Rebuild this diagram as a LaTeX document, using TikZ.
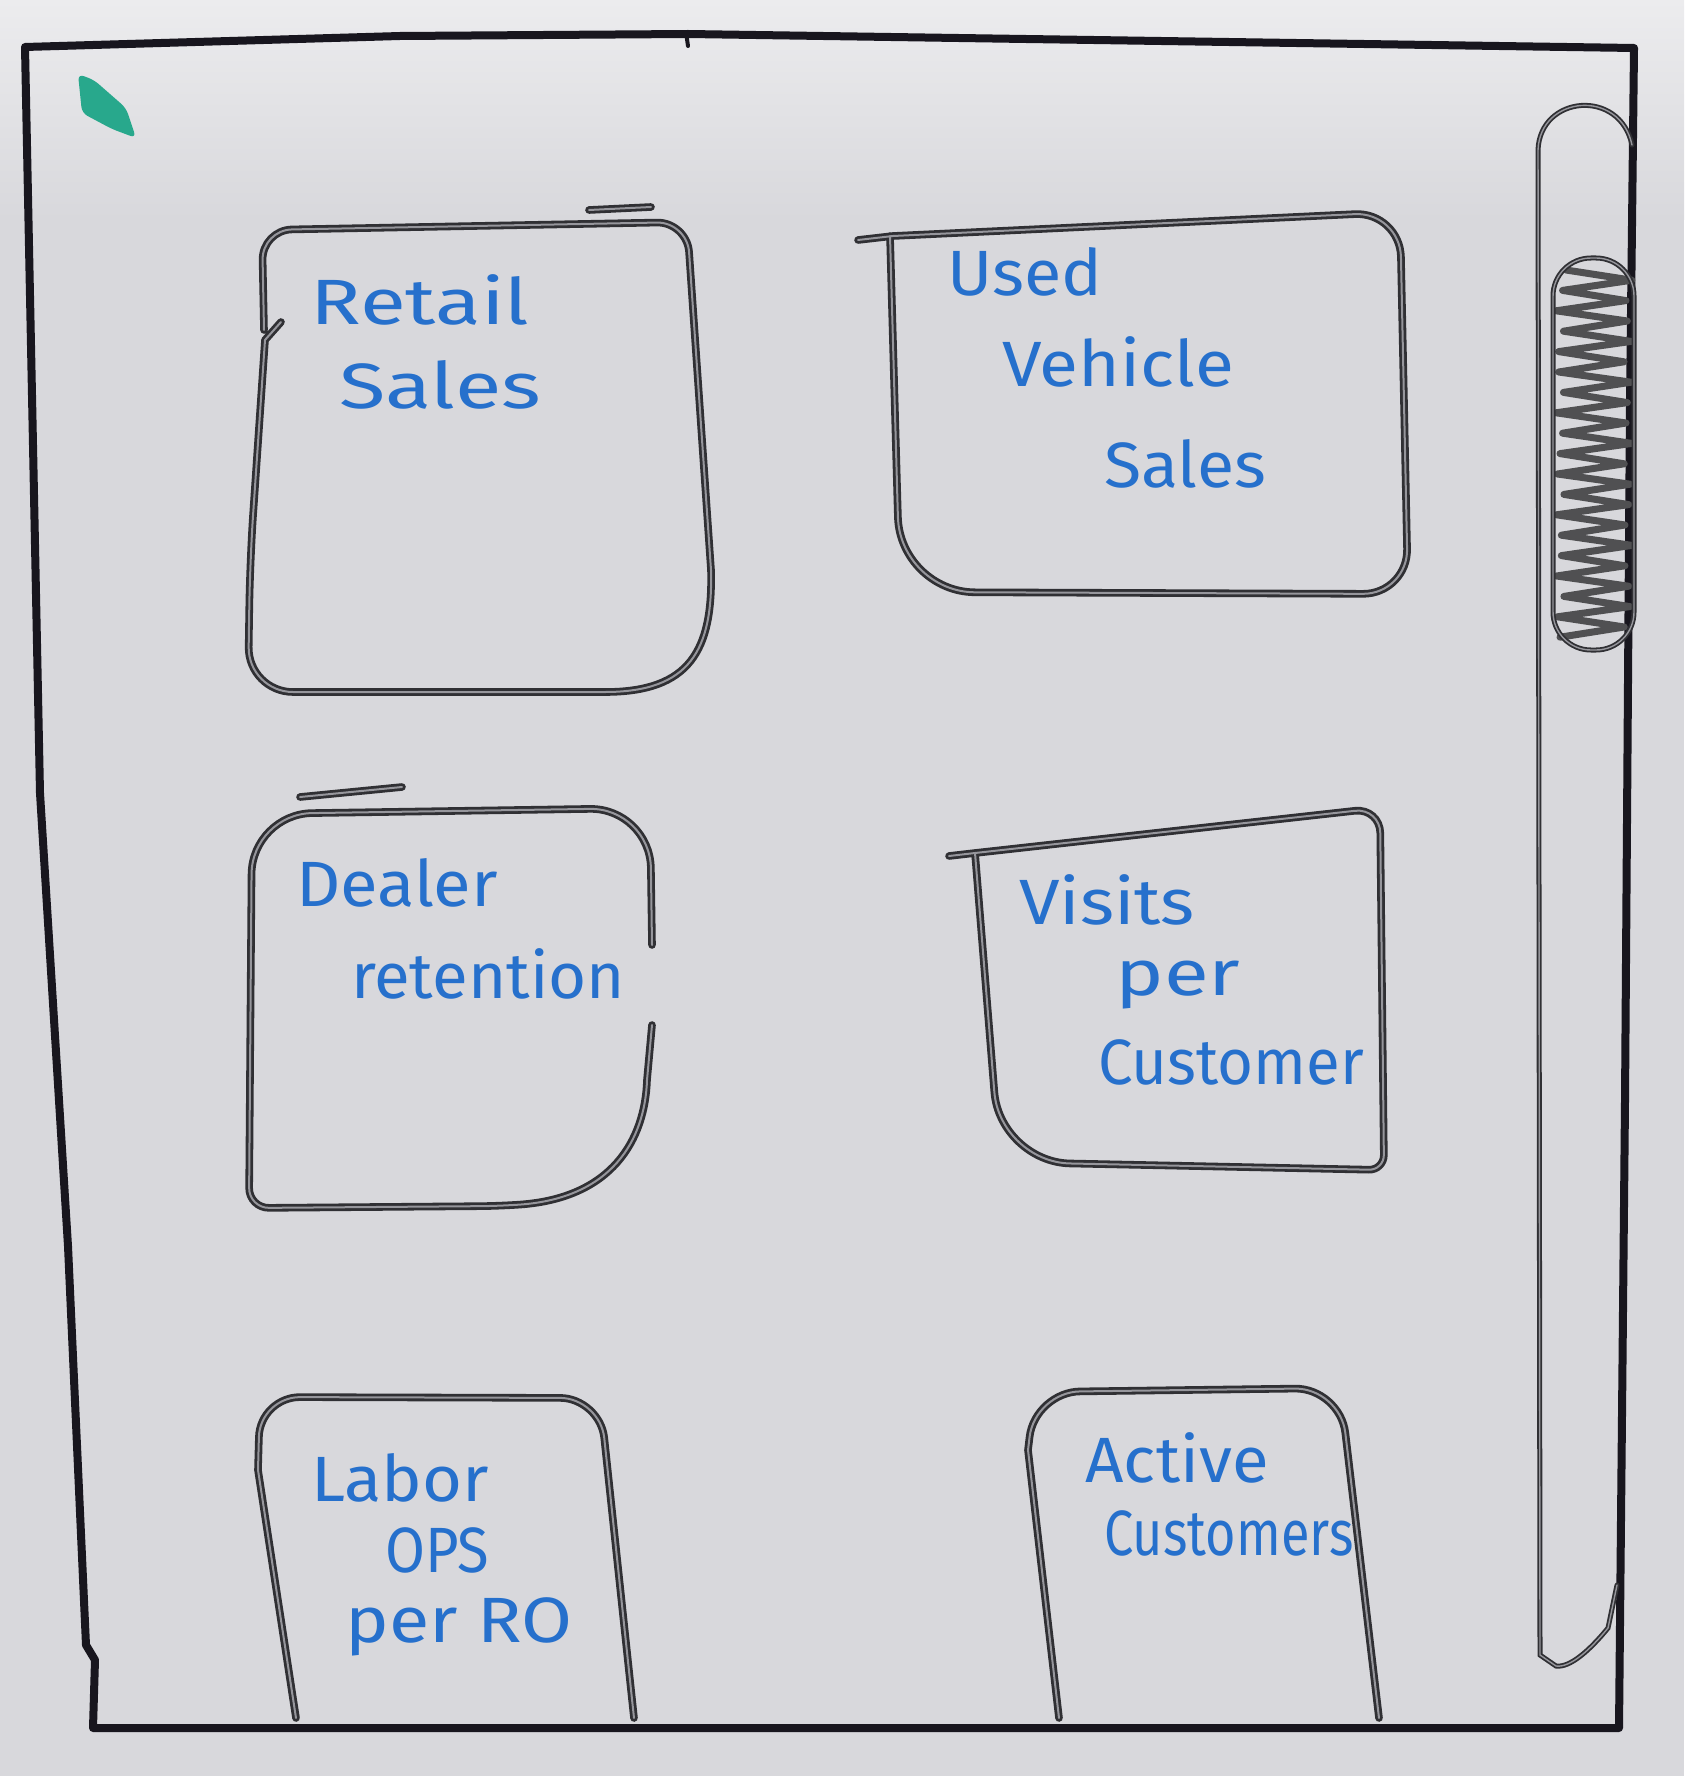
\documentclass[tikz,border=0pt]{standalone}
\usepackage{fontspec}
\setmainfont{Fira Sans}
\usepackage{graphicx}
\definecolor{board}{RGB}{216,216,220}
\definecolor{boardhi}{RGB}{236,236,238}
\definecolor{marker}{RGB}{38,112,204}
\definecolor{ink}{RGB}{24,22,30}
\definecolor{pencil}{RGB}{48,48,52}
\definecolor{halo}{RGB}{150,150,156}
\definecolor{teal}{RGB}{40,168,140}
\definecolor{scribble}{RGB}{80,80,82}
% stretch a word to a given width, keeping its height
\newcommand\fitw[2]{\resizebox{#1pt}{\height}{#2}}
\begin{document}
\begin{tikzpicture}[x=1pt,y=-1pt,
  frameline/.style={draw=ink,line width=8pt,line cap=round,line join=round},
  box/.style={draw=pencil,line width=2.8pt,double=halo,double distance=2pt,line cap=round,line join=round},
  thinbox/.style={draw=pencil,line width=1.8pt,double=halo,double distance=1.4pt,line cap=round},
  hand/.style={text=marker,inner sep=0pt,font=\fontsize{64}{68}\selectfont}]
\useasboundingbox (0,0) rectangle (1684,1776);
% whiteboard
\fill[board] (0,0) rectangle (1684,1776);
\shade[top color=boardhi,bottom color=board] (0,0) rectangle (1684,220);

% outer window frame
\draw[frameline] (25,47) -- (400,36) -- (688,34) -- (1634,48) -- (1630,400) -- (1625,1100) -- (1619,1728)
  -- (93,1728) -- (95,1660) -- (86,1645) -- (68,1246) -- (40,793) -- cycle;
\draw[line width=4pt,ink,line cap=round] (686,32) -- (688,46);

% green marker dot
\fill[teal,rounded corners=6] (78,74) -- (94,80) -- (126,108) -- (136,138) -- (112,129) -- (82,113) -- cycle;

% scrollbar track
\draw[thinbox] (1617,1585) -- (1608,1628) .. controls (1590,1650) and (1570,1668) .. (1556,1666)
  -- (1540,1655) -- (1538,150) .. controls (1540,95) and (1620,88) .. (1632,145);
% scrollbar thumb with scribbled fill
\draw[scribble,line width=7pt,line join=round,line cap=round]
  (1566,270) \foreach \i in {1,...,36}{ -- ({1560+68*mod(\i,2)+4*sin(\i*70)},{270+10.2*\i}) };
\draw[thinbox,rounded corners=38] (1553,258) rectangle (1634,650);

% Retail Sales
\draw[box] (281,322) -- (265,340) [rounded corners=45] -- (250,560) -- (248,692) -- (560,692) [sharp corners]
  .. controls (690,692) and (713,650) .. (711,570) [rounded corners=30] -- (687,222) -- (262,230) -- (264,330);
\draw[box] (589,210) -- (651,207);
\node[hand] (retail1) at (420,300) {\fitw{219}{Retail}};
\node[hand] (retail2) at (440,385) {\fitw{202}{Sales}};

% Used Vehicle Sales
\draw[box] (858,240) -- (893,236) [rounded corners=45] -- (1400,212) -- (1408,594) [rounded corners=75]
  -- (900,592) -- (890,236);
\node[hand] (used1) at (1025,272) {\fitw{155}{Used}};
\node[hand] (used2) at (1118,362) {\fitw{232}{Vehicle}};
\node[hand] (used3) at (1185,464) {\fitw{162}{Sales}};

% Dealer retention
\draw[box] (652,945) [rounded corners=60] -- (650,808) -- (252,814) [rounded corners=20] -- (249,1208)
  -- (500,1206) [sharp corners] .. controls (612,1198) and (645,1140) .. (647,1080) -- (652,1025);
\draw[box] (300,797) -- (402,787);
\node[hand] (dealer1) at (397,883) {\fitw{202}{Dealer}};
\node[hand] (dealer2) at (488,974) {\fitw{274}{retention}};

% Visits per Customer
\draw[box] (949,856) -- (975,853) [rounded corners=25] -- (1380,808) [rounded corners=15] -- (1384,1170)
  [rounded corners=70] -- (1000,1162) -- (975,853);
\node[hand] (visits1) at (1107,900) {\fitw{176}{Visits}};
\node[hand] (visits2) at (1178,985) {\fitw{125}{per}};
\node[hand] (visits3) at (1231,1062) {\fitw{266}{Customer}};

% Labor OPS per RO
\draw[box] (296,1718) -- (258,1470) [rounded corners=40] -- (260,1397) -- (600,1398) -- (634,1718);
\node[hand] (labor1) at (400,1478) {\fitw{178}{Labor}};
\node[hand] (labor2) at (437,1550) {\fitw{104}{OPS}};
\node[hand] (labor3) at (459,1627) {\fitw{227}{per RO}};

% Active Customers
\draw[box] (1059,1718) -- (1028,1450) [rounded corners=45] -- (1035,1392) -- (1340,1388) -- (1379,1718);
\node[hand] (active1) at (1177,1458) {\fitw{183}{Active}};
\node[hand] (active2) at (1229,1533) {\fitw{249}{Customers}};
\end{tikzpicture}
\end{document}
